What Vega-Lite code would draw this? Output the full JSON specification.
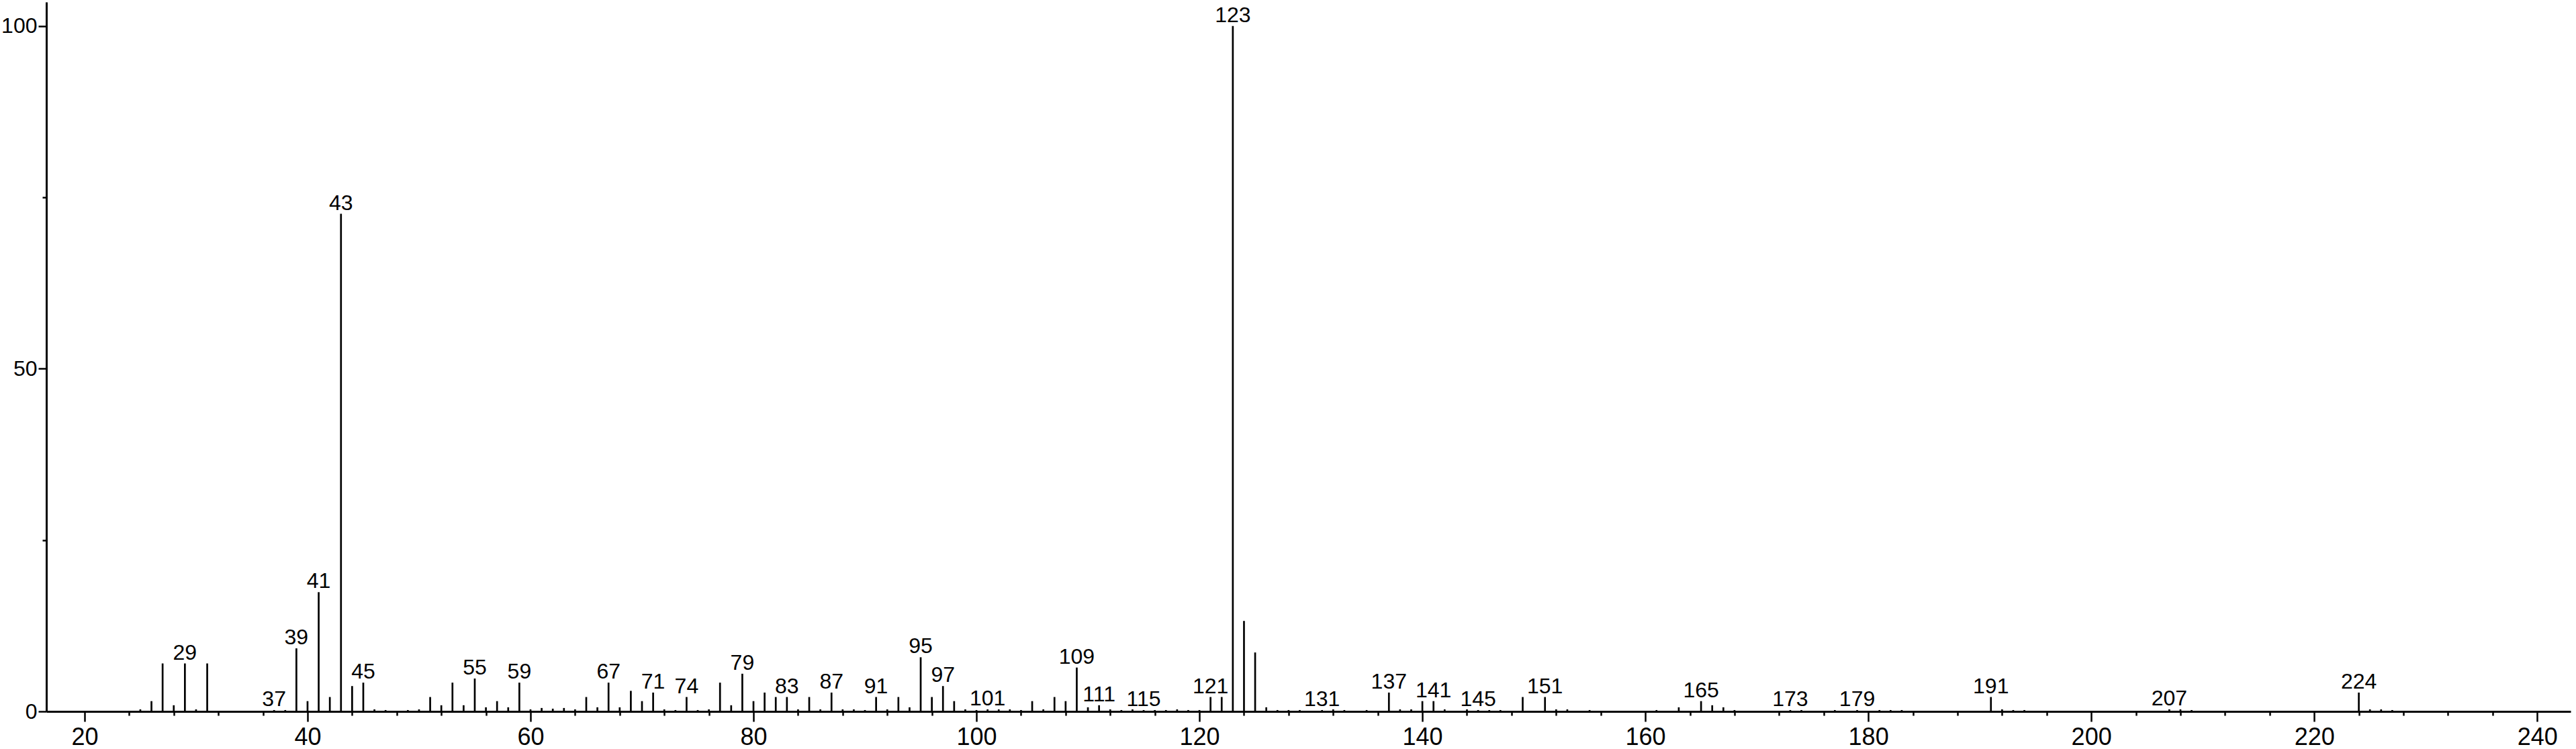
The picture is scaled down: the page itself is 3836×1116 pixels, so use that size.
{
  "$schema": "https://vega.github.io/schema/vega-lite/v6.json",
  "width": 3759,
  "height": 1057,
  "autosize": {"type": "none"},
  "padding": {"left": 69, "top": 3, "right": 8, "bottom": 56},
  "background": "white",
  "config": {"view": {"stroke": null}, "font": "Liberation Sans"},
  "data": {
    "values": [
      {"mz": 25, "intensity": 0.3}, {"mz": 26, "intensity": 1.5}, {"mz": 27, "intensity": 7.0}, {"mz": 28, "intensity": 0.9},
      {"mz": 29, "intensity": 7.0, "lab": true}, {"mz": 30, "intensity": 0.3}, {"mz": 31, "intensity": 7.0},
      {"mz": 37, "intensity": 0.2, "lab": true}, {"mz": 38, "intensity": 0.2}, {"mz": 39, "intensity": 9.2, "lab": true},
      {"mz": 40, "intensity": 1.5}, {"mz": 41, "intensity": 17.4, "lab": true}, {"mz": 42, "intensity": 2.1},
      {"mz": 43, "intensity": 72.6, "lab": true}, {"mz": 44, "intensity": 3.7}, {"mz": 45, "intensity": 4.2, "lab": true},
      {"mz": 46, "intensity": 0.3}, {"mz": 47, "intensity": 0.2}, {"mz": 49, "intensity": 0.2}, {"mz": 50, "intensity": 0.3},
      {"mz": 51, "intensity": 2.1}, {"mz": 52, "intensity": 0.9}, {"mz": 53, "intensity": 4.2}, {"mz": 54, "intensity": 0.9},
      {"mz": 55, "intensity": 4.8, "lab": true}, {"mz": 56, "intensity": 0.6}, {"mz": 57, "intensity": 1.5}, {"mz": 58, "intensity": 0.6},
      {"mz": 59, "intensity": 4.2, "lab": true}, {"mz": 60, "intensity": 0.3}, {"mz": 61, "intensity": 0.5}, {"mz": 62, "intensity": 0.4},
      {"mz": 63, "intensity": 0.5}, {"mz": 64, "intensity": 0.3}, {"mz": 65, "intensity": 2.1}, {"mz": 66, "intensity": 0.6},
      {"mz": 67, "intensity": 4.2, "lab": true}, {"mz": 68, "intensity": 0.6}, {"mz": 69, "intensity": 3.0}, {"mz": 70, "intensity": 1.5},
      {"mz": 71, "intensity": 2.75, "lab": true}, {"mz": 72, "intensity": 0.3}, {"mz": 73, "intensity": 0.2},
      {"mz": 74, "intensity": 2.1, "lab": true}, {"mz": 75, "intensity": 0.2}, {"mz": 76, "intensity": 0.3}, {"mz": 77, "intensity": 4.2},
      {"mz": 78, "intensity": 0.9}, {"mz": 79, "intensity": 5.5, "lab": true}, {"mz": 80, "intensity": 1.5}, {"mz": 81, "intensity": 2.75},
      {"mz": 82, "intensity": 2.1}, {"mz": 83, "intensity": 2.1, "lab": true}, {"mz": 84, "intensity": 0.3}, {"mz": 85, "intensity": 2.1},
      {"mz": 86, "intensity": 0.3}, {"mz": 87, "intensity": 2.75, "lab": true}, {"mz": 88, "intensity": 0.3}, {"mz": 89, "intensity": 0.3},
      {"mz": 90, "intensity": 0.2}, {"mz": 91, "intensity": 2.1, "lab": true}, {"mz": 92, "intensity": 0.3}, {"mz": 93, "intensity": 2.1},
      {"mz": 94, "intensity": 0.6}, {"mz": 95, "intensity": 7.9, "lab": true}, {"mz": 96, "intensity": 2.1},
      {"mz": 97, "intensity": 3.7, "lab": true}, {"mz": 98, "intensity": 1.5}, {"mz": 99, "intensity": 0.3}, {"mz": 100, "intensity": 0.2},
      {"mz": 101, "intensity": 0.3, "lab": true}, {"mz": 102, "intensity": 0.3}, {"mz": 103, "intensity": 0.3}, {"mz": 104, "intensity": 0.2},
      {"mz": 105, "intensity": 1.5}, {"mz": 106, "intensity": 0.3}, {"mz": 107, "intensity": 2.1}, {"mz": 108, "intensity": 1.5},
      {"mz": 109, "intensity": 6.4, "lab": true}, {"mz": 110, "intensity": 0.6}, {"mz": 111, "intensity": 0.9, "lab": true},
      {"mz": 112, "intensity": 0.3}, {"mz": 113, "intensity": 0.2}, {"mz": 114, "intensity": 0.3}, {"mz": 115, "intensity": 0.2, "lab": true},
      {"mz": 116, "intensity": 0.2}, {"mz": 117, "intensity": 0.2}, {"mz": 118, "intensity": 0.3}, {"mz": 119, "intensity": 0.2},
      {"mz": 120, "intensity": 0.2}, {"mz": 121, "intensity": 2.1, "lab": true}, {"mz": 122, "intensity": 2.1},
      {"mz": 123, "intensity": 100, "lab": true}, {"mz": 124, "intensity": 13.2}, {"mz": 125, "intensity": 8.6}, {"mz": 126, "intensity": 0.6},
      {"mz": 127, "intensity": 0.2}, {"mz": 128, "intensity": 0.2}, {"mz": 129, "intensity": 0.2}, {"mz": 131, "intensity": 0.2, "lab": true},
      {"mz": 132, "intensity": 0.3}, {"mz": 133, "intensity": 0.2}, {"mz": 135, "intensity": 0.2}, {"mz": 137, "intensity": 2.75, "lab": true},
      {"mz": 138, "intensity": 0.3}, {"mz": 139, "intensity": 0.3}, {"mz": 140, "intensity": 1.5}, {"mz": 141, "intensity": 1.5, "lab": true},
      {"mz": 142, "intensity": 0.3}, {"mz": 144, "intensity": 0.3}, {"mz": 145, "intensity": 0.2, "lab": true}, {"mz": 146, "intensity": 0.2},
      {"mz": 147, "intensity": 0.2}, {"mz": 149, "intensity": 2.1}, {"mz": 151, "intensity": 2.1, "lab": true}, {"mz": 152, "intensity": 0.3},
      {"mz": 153, "intensity": 0.3}, {"mz": 155, "intensity": 0.2}, {"mz": 161, "intensity": 0.2}, {"mz": 163, "intensity": 0.6},
      {"mz": 165, "intensity": 1.5, "lab": true}, {"mz": 166, "intensity": 0.9}, {"mz": 167, "intensity": 0.6}, {"mz": 168, "intensity": 0.2},
      {"mz": 173, "intensity": 0.2, "lab": true}, {"mz": 174, "intensity": 0.2}, {"mz": 177, "intensity": 0.2},
      {"mz": 179, "intensity": 0.2, "lab": true}, {"mz": 181, "intensity": 0.2}, {"mz": 182, "intensity": 0.2}, {"mz": 183, "intensity": 0.2},
      {"mz": 191, "intensity": 2.1, "lab": true}, {"mz": 192, "intensity": 0.3}, {"mz": 193, "intensity": 0.2}, {"mz": 194, "intensity": 0.2},
      {"mz": 207, "intensity": 0.3, "lab": true}, {"mz": 208, "intensity": 0.3}, {"mz": 209, "intensity": 0.2},
      {"mz": 224, "intensity": 2.75, "lab": true}, {"mz": 225, "intensity": 0.3}, {"mz": 226, "intensity": 0.3}, {"mz": 227, "intensity": 0.2}
    ]
  },
  "layer": [
    {
      "mark": {"type": "rule", "color": "black", "strokeWidth": 2.7},
      "encoding": {
        "x": {
          "field": "mz", "type": "quantitative",
          "scale": {"domain": [16.57, 243], "nice": false, "zero": false},
          "axis": {
            "title": null,
            "values": [20,22,24,26,28,30,32,34,36,38,40,42,44,46,48,50,52,54,56,58,60,62,64,66,68,70,72,74,76,78,80,82,84,86,88,90,92,94,96,98,100,102,104,106,108,110,112,114,116,118,120,122,124,126,128,130,132,134,136,138,140,142,144,146,148,150,152,154,156,158,160,162,164,166,168,170,172,174,176,178,180,182,184,186,188,190,192,194,196,198,200,202,204,206,208,210,212,214,216,218,220,222,224,226,228,230,232,234,236,238,240,242],
            "labelExpr": "datum.value % 10 === 0 ? datum.label : ''",
            "tickSize": {"condition": {"test": "datum.value % 10 === 0", "value": 15}, "value": 6},
            "tickWidth": 2.5, "tickColor": "black",
            "domainColor": "black", "domainWidth": 3,
            "labelFont": "Liberation Sans", "labelFontSize": 36, "labelColor": "black",
            "labelPadding": 6, "labelOverlap": false, "labelFlush": false, "grid": false
          }
        },
        "y": {
          "field": "intensity", "type": "quantitative",
          "scale": {"domain": [0, 103.5], "nice": false},
          "axis": {
            "title": null,
            "values": [0, 25, 50, 75, 100],
            "labelExpr": "datum.value % 50 === 0 ? datum.label : ''",
            "tickSize": {"condition": {"test": "datum.value % 50 === 0", "value": 12}, "value": 6},
            "tickWidth": 2.5, "tickColor": "black",
            "domainColor": "black", "domainWidth": 3,
            "labelFont": "Liberation Sans", "labelFontSize": 32, "labelColor": "black",
            "labelPadding": 2, "labelOverlap": false, "labelFlush": false, "grid": false
          }
        },
        "y2": {"datum": 0}
      }
    },
    {
      "transform": [{"filter": "datum.lab"}],
      "mark": {"type": "text", "baseline": "alphabetic", "align": "center", "dy": -6, "fontSize": 32, "font": "Liberation Sans", "color": "black"},
      "encoding": {
        "x": {"field": "mz", "type": "quantitative"},
        "y": {"field": "intensity", "type": "quantitative"},
        "text": {"field": "mz", "type": "quantitative", "format": "d"}
      }
    }
  ]
}
